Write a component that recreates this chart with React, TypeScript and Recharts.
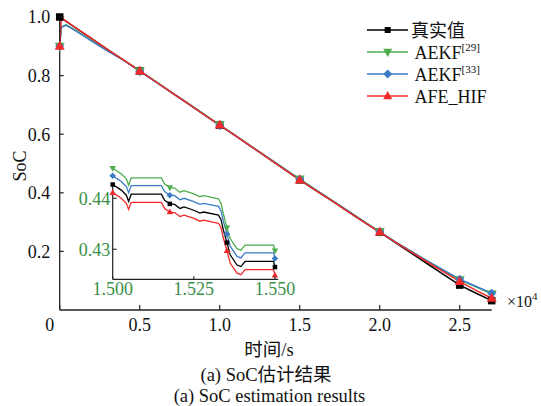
import React from "react";
import { LineChart, Line, XAxis, YAxis, ReferenceLine } from "recharts";

const SERIF = "'Liberation Serif', 'Times New Roman', 'Noto Sans CJK SC', serif";

// time axis in units of 10^4 s
const mainTime = [
  0, 0.01, 0.04, 0.1, 0.2, 0.3, 0.4, 0.5, 0.6, 0.7, 0.8, 0.9, 1.0, 1.1, 1.2,
  1.3, 1.4, 1.5, 1.6, 1.7, 1.8, 1.9, 2.0, 2.1, 2.2, 2.3, 2.4, 2.5, 2.6, 2.7,
];
const socTrue = [
  1.0, 0.996, 0.985, 0.963, 0.926, 0.889, 0.853, 0.816, 0.779, 0.742, 0.705,
  0.668, 0.631, 0.594, 0.557, 0.519, 0.482, 0.444, 0.408, 0.373, 0.337, 0.301,
  0.266, 0.229, 0.193, 0.157, 0.121, 0.085, 0.058, 0.032,
];
const socAekf29 = [
  0.9, 0.966, 0.973, 0.954, 0.919, 0.885, 0.853, 0.816, 0.78, 0.743, 0.706,
  0.669, 0.631, 0.595, 0.558, 0.521, 0.484, 0.447, 0.411, 0.375, 0.339, 0.303,
  0.267, 0.232, 0.199, 0.166, 0.134, 0.103, 0.079, 0.055,
];
const socAekf33 = [
  0.9, 0.965, 0.972, 0.953, 0.918, 0.884, 0.852, 0.815, 0.779, 0.742, 0.705,
  0.668, 0.63, 0.594, 0.557, 0.52, 0.483, 0.446, 0.41, 0.374, 0.338, 0.302,
  0.267, 0.232, 0.199, 0.167, 0.136, 0.105, 0.081, 0.057,
];
const socAfeHif = [
  0.9, 0.997, 0.986, 0.963, 0.926, 0.889, 0.853, 0.816, 0.779, 0.742, 0.705,
  0.668, 0.631, 0.594, 0.557, 0.519, 0.482, 0.444, 0.408, 0.373, 0.337, 0.301,
  0.266, 0.231, 0.197, 0.163, 0.13, 0.097, 0.068, 0.04,
];
const mainMarks = [0, 0.5, 1.0, 1.5, 2.0, 2.5, 2.7];
const mainXTicks = [0, 0.5, 1.0, 1.5, 2.0, 2.5];
const mainYTicks = [0.2, 0.4, 0.6, 0.8, 1.0];

// zoomed window 1.500 - 1.550
const zoomTime = [
  1.5, 1.50265, 1.5042, 1.5049, 1.5057, 1.515, 1.516, 1.5176, 1.5191, 1.5207,
  1.522, 1.5248, 1.5269, 1.528, 1.5326, 1.5334, 1.5341, 1.5352, 1.5362, 1.5383,
  1.5395, 1.5408, 1.5496, 1.55,
];
const zoomTrue = [
  0.4427, 0.4416, 0.4406, 0.4394, 0.4408, 0.4408, 0.4396, 0.4389, 0.4388,
  0.438, 0.4383, 0.4377, 0.4371, 0.4373, 0.4367, 0.4358, 0.4338, 0.4313,
  0.4289, 0.4269, 0.4266, 0.4276, 0.4276, 0.4265,
];
const zoomAekf29 = [
  0.4459, 0.4448, 0.4438, 0.4426, 0.444, 0.444, 0.4428, 0.4421, 0.442, 0.4412,
  0.4415, 0.4409, 0.4403, 0.4405, 0.4399, 0.439, 0.437, 0.4342, 0.4321, 0.4301,
  0.4298, 0.4308, 0.4308, 0.4297,
];
const zoomAekf33 = [
  0.4444, 0.4433, 0.4423, 0.4411, 0.4425, 0.4425, 0.4413, 0.4406, 0.4405,
  0.4397, 0.44, 0.4394, 0.4388, 0.439, 0.4384, 0.4375, 0.4355, 0.433, 0.4306,
  0.4286, 0.4283, 0.4293, 0.4293, 0.4282,
];
const zoomAfeHif = [
  0.4411, 0.44, 0.439, 0.4378, 0.4392, 0.4392, 0.438, 0.4373, 0.4372, 0.4364,
  0.4367, 0.4361, 0.4355, 0.4357, 0.4351, 0.4342, 0.4322, 0.4297, 0.4273,
  0.4253, 0.425, 0.426, 0.426, 0.4249,
];
const zoomMarks = [1.5, 1.5176, 1.5352, 1.55];
const zoomXTicks = [1.5, 1.525, 1.55];
const zoomYTicks = [0.43, 0.44];

const AXIS = "#222";
const TICK_GREEN = "#3b8f49";

type Shape = "square" | "up" | "down" | "diamond";

const series = [
  { key: "true", name: "真实值", sup: "", color: "#000000", shape: "square" as Shape, main: socTrue, zoom: zoomTrue },
  { key: "aekf29", name: "AEKF", sup: "[29]", color: "#4cae4c", shape: "down" as Shape, main: socAekf29, zoom: zoomAekf29 },
  { key: "aekf33", name: "AEKF", sup: "[33]", color: "#3b7cc6", shape: "diamond" as Shape, main: socAekf33, zoom: zoomAekf33 },
  { key: "afe", name: "AFE_HIF", sup: "", color: "#f02a2a", shape: "up" as Shape, main: socAfeHif, zoom: zoomAfeHif },
];

const toPoints = (ts: number[], vs: number[]) => ts.map((t, i) => ({ t, v: vs[i] }));

function Marker({ shape, cx, cy, size, color }: { shape: Shape; cx: number; cy: number; size: number; color: string }) {
  const h = size / 2;
  if (shape === "square") {
    const s = size * 0.75;
    return <rect x={cx - s / 2} y={cy - s / 2} width={s} height={s} fill={color} />;
  }
  if (shape === "up") {
    return <polygon points={`${cx},${cy - size * 0.55} ${cx - h},${cy + size * 0.35} ${cx + h},${cy + size * 0.35}`} fill={color} />;
  }
  if (shape === "down") {
    return <polygon points={`${cx},${cy + size * 0.55} ${cx - h},${cy - size * 0.35} ${cx + h},${cy - size * 0.35}`} fill={color} />;
  }
  return <polygon points={`${cx},${cy - h} ${cx + h},${cy} ${cx},${cy + h} ${cx - h},${cy}`} fill={color} />;
}

const markerDot = (shape: Shape, color: string, size: number, marks: number[]) => (props: any) => {
  const { cx, cy, payload, index } = props;
  if (cx == null || cy == null || !marks.some((m) => Math.abs(m - payload.t) < 1e-6)) return <g key={index} />;
  return (
    <g key={index}>
      <Marker shape={shape} cx={cx} cy={cy} size={size} color={color} />
    </g>
  );
};

const MainXTick = (props: any) => {
  const { x, y, payload } = props;
  const v = payload.value as number;
  return (
    <g>
      <line x1={x} y1={y} x2={x} y2={y - 5} stroke={AXIS} strokeWidth={1.2} />
      <text x={v === 0 ? x - 10 : x} y={y + 15} dy="0.35em" textAnchor="middle" fontSize={18} fontFamily={SERIF} fill="#111">
        {v === 0 ? "0" : v.toFixed(1)}
      </text>
    </g>
  );
};

const MainYTick = (props: any) => {
  const { x, y, payload } = props;
  return (
    <g>
      <line x1={x} y1={y} x2={x + 4} y2={y} stroke={AXIS} strokeWidth={1.2} />
      <text x={x - 9.5} y={y} dy="0.35em" textAnchor="end" fontSize={18} fontFamily={SERIF} fill="#111">
        {(payload.value as number).toFixed(1)}
      </text>
    </g>
  );
};

const ZoomXTick = (props: any) => {
  const { x, y, payload } = props;
  return (
    <g>
      <line x1={x} y1={y} x2={x} y2={y - 3} stroke={AXIS} strokeWidth={1.1} />
      <text x={x} y={y + 9.7} dy="0.35em" textAnchor="middle" fontSize={18} fontFamily={SERIF} fill={TICK_GREEN}>
        {(payload.value as number).toFixed(3)}
      </text>
    </g>
  );
};

const ZoomYTick = (props: any) => {
  const { x, y, payload } = props;
  return (
    <g>
      <line x1={x} y1={y} x2={x + 4} y2={y} stroke={AXIS} strokeWidth={1.1} />
      <text x={x - 2.5} y={y} dy="0.35em" textAnchor="end" fontSize={18} fontFamily={SERIF} fill={TICK_GREEN}>
        {(payload.value as number).toFixed(2)}
      </text>
    </g>
  );
};

const legendRows = [30, 52, 74, 96];

export default function App() {
  return (
    <div style={{ position: "absolute", left: 0, top: 0, width: 541, height: 406, background: "#fff" }}>
      <LineChart width={541} height={406} margin={{ top: 17, right: 49.3, bottom: 66, left: 0 }}>
        <XAxis
          type="number"
          dataKey="t"
          domain={[0, 2.7]}
          ticks={mainXTicks}
          interval={0}
          tickSize={0}
          tickMargin={0}
          height={30}
          stroke={AXIS}
          strokeWidth={1.3}
          tick={(p: any) => <MainXTick {...p} />}
        />
        <YAxis
          type="number"
          dataKey="v"
          domain={[0, 1]}
          ticks={mainYTicks}
          interval={0}
          tickSize={0}
          tickMargin={0}
          width={59.7}
          stroke={AXIS}
          strokeWidth={1.3}
          tick={(p: any) => <MainYTick {...p} />}
        />
        {series.map((s) => (
          <Line
            key={s.key}
            data={toPoints(mainTime, s.main)}
            dataKey="v"
            stroke={s.color}
            strokeWidth={1.5}
            dot={markerDot(s.shape, s.color, s.shape === "diamond" ? 9 : 10, mainMarks)}
            activeDot={false}
            isAnimationActive={false}
          />
        ))}
      </LineChart>

      <div style={{ position: "absolute", left: 60, top: 150 }}>
        <LineChart width={240} height={160} margin={{ top: 15.15, right: 21.8, bottom: 5.7, left: 0 }}>
          <XAxis
            type="number"
            dataKey="t"
            domain={[1.5, 1.551]}
            ticks={zoomXTicks}
            interval={0}
            tickSize={0}
            tickMargin={0}
            height={25}
            stroke={AXIS}
            strokeWidth={1.2}
            tick={(p: any) => <ZoomXTick {...p} />}
          />
          <YAxis
            type="number"
            dataKey="v"
            domain={[0.4241, 0.4465]}
            ticks={zoomYTicks}
            interval={0}
            tickSize={0}
            tickMargin={0}
            width={52.7}
            axisLine={false}
            tick={(p: any) => <ZoomYTick {...p} />}
          />
          <ReferenceLine
            segment={[
              { x: 1.5, y: 0.4241 },
              { x: 1.5, y: 0.4427 },
            ]}
            stroke={AXIS}
            strokeWidth={1.2}
          />
          {series.map((s) => (
            <Line
              key={s.key}
              data={toPoints(zoomTime, s.zoom)}
              dataKey="v"
              stroke={s.color}
              strokeWidth={1.3}
              dot={markerDot(s.shape, s.color, s.shape === "square" ? 6 : 6.5, zoomMarks)}
              activeDot={false}
              isAnimationActive={false}
            />
          ))}
        </LineChart>
      </div>

      <svg width={541} height={406} style={{ position: "absolute", left: 0, top: 0, pointerEvents: "none" }} fontFamily={SERIF}>
        {series.map((s, i) => {
          const y = legendRows[i];
          return (
            <g key={s.key}>
              <line x1={367} y1={y} x2={408} y2={y} stroke={s.color} strokeWidth={1.5} />
              <Marker shape={s.shape} cx={387.7} cy={y} size={s.shape === "square" ? 8 : 9} color={s.color} />
              <text x={s.sup || s.key === "afe" ? 414.5 : 411} y={y + 6.5} fontSize={18} fill="#111">
                {s.name}
                {s.sup && (
                  <tspan fontSize={11} dy={-8}>
                    {s.sup}
                  </tspan>
                )}
              </text>
            </g>
          );
        })}

        <text x={20} y={166} transform="rotate(-90 20 166)" textAnchor="middle" dy="0.35em" fontSize={18} fill="#111">
          SoC
        </text>

        <text x={507} y={307} fontSize={16} fill="#111">
          ×10
          <tspan fontSize={11} dy={-7}>
            4
          </tspan>
        </text>

        <text x={269} y={356} textAnchor="middle" fontSize={18.5} fill="#111">
          时间/s
        </text>
        <text x={266} y={381} textAnchor="middle" fontSize={18.5} fill="#111">
          (a) SoC估计结果
        </text>
        <text x={269.5} y={402} textAnchor="middle" fontSize={18.5} fill="#111">
          (a) SoC estimation results
        </text>
      </svg>
    </div>
  );
}
